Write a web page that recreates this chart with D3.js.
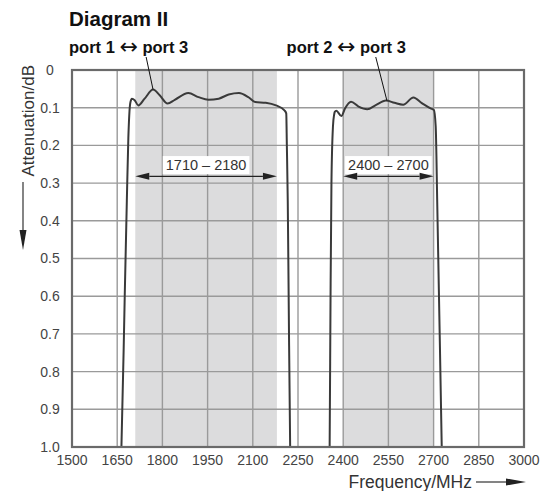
<!DOCTYPE html>
<html>
<head>
<meta charset="utf-8">
<script src="https://cdn.jsdelivr.net/npm/d3@7/dist/d3.min.js"></script>
<style>
  html, body { margin: 0; padding: 0; background: #fff; }
  svg { display: block; font-family: "Liberation Sans", Arial, Helvetica, sans-serif; }
</style>
</head>
<body>
<svg id="chart" width="543" height="491"></svg>
<script>
// ---- data ----
const freqTicks = [1500, 1650, 1800, 1950, 2100, 2250, 2400, 2550, 2700, 2850, 3000];
const attTicks = [0, 0.1, 0.2, 0.3, 0.4, 0.5, 0.6, 0.7, 0.8, 0.9, 1.0];
const attLabels = ["0", "0.1", "0.2", "0.3", "0.4", "0.5", "0.6", "0.7", "0.8", "0.9", "1.0"];

const bandStart = [1710, 2400];
const bandEnd = [2180, 2700];
const bandLabels = ["1710 \u2013 2180", "2400 \u2013 2700"];

const port13Freq = [1655, 1664, 1675, 1682, 1687, 1690, 1694, 1699, 1708, 1720, 1741, 1769, 1791, 1817, 1841, 1886, 1920, 1953, 1987, 2020, 2054, 2087, 2108, 2143, 2177, 2205, 2211, 2213, 2216, 2219, 2224, 2228];
const port13Att  = [1.1, 1.0, 0.6, 0.346, 0.18, 0.12, 0.085, 0.076, 0.08, 0.094, 0.076, 0.052, 0.067, 0.089, 0.079, 0.061, 0.072, 0.079, 0.076, 0.065, 0.061, 0.073, 0.085, 0.087, 0.094, 0.107, 0.115, 0.2, 0.346, 0.6, 1.0, 1.1];

const port23Freq = [2353, 2355, 2358, 2361, 2366, 2370, 2372, 2377, 2394, 2406, 2426, 2451, 2480, 2508, 2542, 2570, 2599, 2633, 2661, 2690, 2701, 2707, 2712, 2719, 2727, 2729];
const port23Att  = [1.1, 1.0, 0.6, 0.3, 0.15, 0.118, 0.111, 0.108, 0.122, 0.102, 0.084, 0.097, 0.104, 0.093, 0.081, 0.087, 0.092, 0.073, 0.088, 0.102, 0.106, 0.15, 0.35, 0.65, 1.0, 1.1];

const portFrom = ["port 1", "port 2"];
const portTo = ["port 3", "port 3"];
const portArrow = "\u2194";
const portLabelFreq = [1490, 2212];
const leaderFromFreq = [1746, 2508];
const leaderToFreq = [1769, 2545];
const leaderToAtt = [0.052, 0.081];

// ---- layout ----
const W = 543, H = 491;
const L = 72, R = 524, T = 70, B = 447;
const svg = d3.select("#chart");
const x = d3.scaleLinear().domain([1500, 3000]).range([L, R]);
const y = d3.scaleLinear().domain([0, 1]).range([T, B]);

svg.append("defs").append("clipPath").attr("id", "clip")
  .append("rect").attr("x", L).attr("y", T).attr("width", R - L).attr("height", B - T);

// shaded bands
svg.append("g").selectAll("rect").data(bandStart).join("rect")
  .attr("x", (d) => x(d))
  .attr("y", T)
  .attr("width", (d, i) => x(bandEnd[i]) - x(d))
  .attr("height", B - T)
  .attr("fill", "#dcdcdd");

// grid
const grid = svg.append("g").attr("stroke", "#9a9a9a").attr("stroke-width", 1.4);
grid.selectAll("line.v").data(freqTicks.slice(1, -1)).join("line")
  .attr("x1", (d) => x(d)).attr("x2", (d) => x(d)).attr("y1", T).attr("y2", B);
grid.selectAll("line.h").data(attTicks.slice(1, -1)).join("line")
  .attr("class", "h")
  .attr("x1", L).attr("x2", R).attr("y1", (d) => y(d)).attr("y2", (d) => y(d));

// range labels + arrows
const arrowAtt = 0.282;
const bandG = svg.append("g");
bandStart.forEach((s, i) => {
  const e = bandEnd[i];
  const ya = y(arrowAtt);
  const x1 = x(s), x2 = x(e);
  const ah = 14, aw = 3.5;
  bandG.append("line").attr("x1", x1 + ah).attr("x2", x2 - ah).attr("y1", ya).attr("y2", ya)
    .attr("stroke", "#222").attr("stroke-width", 1.3);
  bandG.append("path").attr("d", `M${x1},${ya}L${x1 + ah},${ya - aw}L${x1 + ah},${ya + aw}Z`).attr("fill", "#222");
  bandG.append("path").attr("d", `M${x2},${ya}L${x2 - ah},${ya - aw}L${x2 - ah},${ya + aw}Z`).attr("fill", "#222");
  const cx = (x1 + x2) / 2;
  const t = bandG.append("text").attr("x", cx).attr("y", y(0.252)).attr("dy", "0.35em")
    .attr("text-anchor", "middle").attr("font-size", 14.5).attr("fill", "#333").text(bandLabels[i]);
  const bb = t.node().getBBox();
  bandG.insert("rect", "text").attr("x", bb.x - 3).attr("y", bb.y - 1).attr("width", bb.width + 6).attr("height", bb.height + 2)
    .attr("fill", "#fff");
});
bandG.selectAll("text").raise();

// curves
const line = d3.line().x((d) => x(d[0])).y((d) => y(d[1])).curve(d3.curveMonotoneX);
const curves = svg.append("g").attr("clip-path", "url(#clip)");
curves.append("path").datum(port13Freq.map((f, i) => [f, port13Att[i]]))
  .attr("d", line).attr("fill", "none").attr("stroke", "#3a3a3a").attr("stroke-width", 2);
curves.append("path").datum(port23Freq.map((f, i) => [f, port23Att[i]]))
  .attr("d", line).attr("fill", "none").attr("stroke", "#3a3a3a").attr("stroke-width", 2);

// frame
svg.append("rect").attr("x", L).attr("y", T).attr("width", R - L).attr("height", B - T)
  .attr("fill", "none").attr("stroke", "#6a6a6a").attr("stroke-width", 2.2);

// axes labels
svg.append("g").selectAll("text").data(freqTicks).join("text")
  .attr("x", (d) => x(d)).attr("y", B + 18)
  .attr("text-anchor", "middle").attr("font-size", 14).attr("fill", "#444")
  .text((d) => d);
svg.append("g").selectAll("text").data(attTicks).join("text")
  .attr("x", L - 22).attr("y", (d) => y(d)).attr("dy", "0.35em")
  .attr("text-anchor", "middle").attr("font-size", 14).attr("fill", "#444")
  .text((d, i) => attLabels[i]);

// x title with arrow
svg.append("text").attr("x", R - 52).attr("y", H - 3).attr("text-anchor", "end")
  .attr("font-size", 17.5).attr("fill", "#333").text("Frequency/MHz");
svg.append("line").attr("x1", R - 48).attr("x2", R - 16).attr("y1", H - 9).attr("y2", H - 9)
  .attr("stroke", "#333").attr("stroke-width", 1.2);
svg.append("path").attr("d", `M${R + 2},${H - 9}L${R - 18},${H - 12.5}L${R - 18},${H - 5.5}Z`).attr("fill", "#222");

// y title with arrow
svg.append("text").attr("transform", `translate(34,${T - 5}) rotate(-90)`).attr("text-anchor", "end")
  .attr("font-size", 17).attr("fill", "#333").text("Attenuation/dB");
svg.append("line").attr("x1", 23).attr("x2", 23).attr("y1", 182).attr("y2", 232)
  .attr("stroke", "#333").attr("stroke-width", 1.2);
svg.append("path").attr("d", `M23,250L19.5,230L26.5,230Z`).attr("fill", "#222");

// title
svg.append("text").attr("x", L - 3).attr("y", 26).attr("font-size", 20.5).attr("font-weight", "bold")
  .attr("fill", "#111").text("Diagram II");

// port labels + leader lines
portFrom.forEach((p, i) => {
  const t = svg.append("text").attr("x", x(portLabelFreq[i])).attr("y", T - 17)
    .attr("font-size", 16.5).attr("font-weight", "bold").attr("fill", "#111");
  t.append("tspan").text(p + " ");
  t.append("tspan").attr("font-family", "DejaVu Sans").attr("font-weight", "normal")
    .attr("font-size", 22).attr("dy", 1).text(portArrow);
  t.append("tspan").attr("dy", -1).text(" " + portTo[i]);
  svg.append("line").attr("x1", x(leaderFromFreq[i])).attr("y1", T - 13)
    .attr("x2", x(leaderToFreq[i])).attr("y2", y(leaderToAtt[i]))
    .attr("stroke", "#111").attr("stroke-width", 1);
});
</script>
</body>
</html>
